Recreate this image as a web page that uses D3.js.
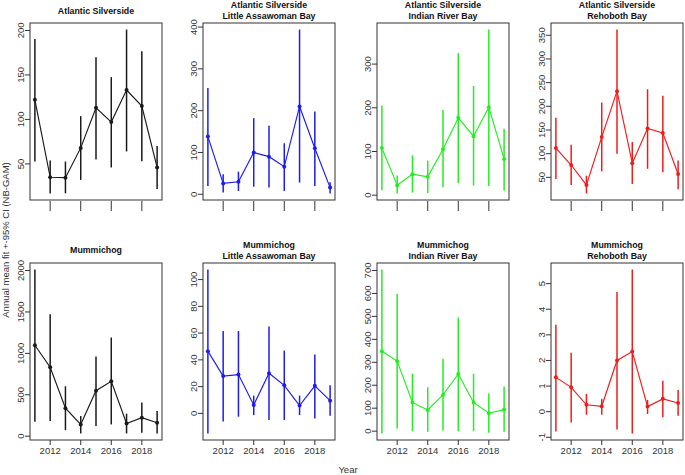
<!DOCTYPE html>
<html><head><meta charset="utf-8">
<script src="https://cdn.jsdelivr.net/npm/d3@7"></script>
<style>body{margin:0;background:#fff}text{font-family:"Liberation Sans",Arial,sans-serif}</style>
</head><body>
<svg id="c" width="685" height="475"></svg>
<script>
const years = [2011,2012,2013,2014,2015,2016,2017,2018,2019];
const xTicks = [2012,2014,2016,2018];

// Atlantic Silverside (all)
const silvAllFit = [122,35,34.5,68,113,97,133,115,46];
const silvAllLo  = [52.7,16.8,17,32,55,46,64,53,21.7];
const silvAllHi  = [190.5,53.8,52.7,103.7,170,147.5,201,176.6,70];
// Atlantic Silverside Little Assawoman Bay
const silvLabFit = [138,26,30,100,90,66,210,110,16];
const silvLabLo  = [20,4,8,18,16,8,28,20,2];
const silvLabHi  = [254,48,54,182,164,122,394,198,29];
// Atlantic Silverside Indian River Bay
const silvIrbFit = [108,23,48,42,105,177,135,201,83];
const silvIrbLo  = [12,4,6,5,18,28,22,21,10];
const silvIrbHi  = [205,45,91,79,195,325,250,379,152];
// Atlantic Silverside Rehoboth Bay
const silvRbFit = [111.7,76,34,135,232,80,153,143.6,57];
const silvRbLo  = [46.5,34,16,63,100,36,68,60.6,25];
const silvRbHi  = [176,119,53.5,208,362,124.5,236,222,85.5];
// Mummichog (all)
const mumAllFit = [1098,833,337,142,549,663,154,224,163];
const mumAllLo  = [175,183,73,33,122,142,33,41,33];
const mumAllHi  = [2012,1472,602,244,963,1191,272,407,305];
// Mummichog Little Assawoman Bay
const mumLabFit = [46.5,27.9,29,6.3,30,21,5.8,20.6,9.5];
const mumLabLo  = [-15,-6,-2.5,-1.3,-5,-5,-1.3,-3.8,-1.8];
const mumLabHi  = [107.5,61.6,61.6,13.3,65,47,13.3,44,21];
// Mummichog Indian River Bay
const mumIrbFit = [348,305,125,92,158,249,125,78,94];
const mumIrbLo  = [-10,12,0,-3,3,0,0,-7,-3];
const mumIrbHi  = [704,597,250,191,315,495,250,164,194];
// Mummichog Rehoboth Bay
const mumRbFit = [1.34,0.95,0.27,0.21,2.0,2.35,0.2,0.5,0.34];
const mumRbLo  = [-0.77,-0.42,-0.12,-0.12,-0.7,-0.85,-0.09,-0.22,-0.16];
const mumRbHi  = [3.39,2.3,0.69,0.5,4.67,5.55,0.46,1.21,0.85];

const yTicks = [
  [50,100,150,200],[0,100,200,300,400],[0,100,200,300],[50,100,150,200,250,300,350],
  [0,500,1000,1500,2000],[0,20,40,60,80,100],[0,100,200,300,400,500,600,700],[-1,0,1,2,3,4,5]
];
const titles = [
  ["Atlantic Silverside"],["Atlantic Silverside","Little Assawoman Bay"],
  ["Atlantic Silverside","Indian River Bay"],["Atlantic Silverside","Rehoboth Bay"],
  ["Mummichog"],["Mummichog","Little Assawoman Bay"],
  ["Mummichog","Indian River Bay"],["Mummichog","Rehoboth Bay"]
];
const colors = ["#1a1a1a","#1c1cf0","#22ee22","#f01c1c","#1a1a1a","#1c1cf0","#22ee22","#f01c1c"];
const fits = [silvAllFit,silvLabFit,silvIrbFit,silvRbFit,mumAllFit,mumLabFit,mumIrbFit,mumRbFit];
const los  = [silvAllLo,silvLabLo,silvIrbLo,silvRbLo,mumAllLo,mumLabLo,mumIrbLo,mumRbLo];
const his  = [silvAllHi,silvLabHi,silvIrbHi,silvRbHi,mumAllHi,mumLabHi,mumIrbHi,mumRbHi];

const svg = d3.select("#c");
const lefts = [30,203,377,551];
const tops = [23,263];
const W = 132, H = 177;

for (let p = 0; p < 8; p++) {
  const row = Math.floor(p/4), col = p%4;
  const x0 = lefts[col], y0 = tops[row];
  const g = svg.append("g").attr("transform",`translate(${x0},${y0})`);
  const lo = d3.min(los[p]), hi = d3.max(his[p]);
  const pad = (hi-lo)*0.04;
  const y = d3.scaleLinear().domain([lo-pad, hi+pad]).range([H,0]);
  const x = d3.scaleLinear().domain([2011-0.32, 2019+0.32]).range([0,W]);
  const col_ = colors[p];
  const data = years.map((yr,i)=>({yr, f:fits[p][i], l:los[p][i], h:his[p][i]}));

  g.selectAll("line.eb").data(data).enter().append("line")
    .attr("x1",d=>x(d.yr)).attr("x2",d=>x(d.yr))
    .attr("y1",d=>y(d.l)).attr("y2",d=>y(d.h))
    .attr("stroke",col_).attr("stroke-width",1.5);
  g.append("path").datum(data)
    .attr("d",d3.line().x(d=>x(d.yr)).y(d=>y(d.f)))
    .attr("fill","none").attr("stroke",col_).attr("stroke-width",1.15);
  g.selectAll("circle").data(data).enter().append("circle")
    .attr("cx",d=>x(d.yr)).attr("cy",d=>y(d.f)).attr("r",2).attr("fill",col_);

  g.append("rect").attr("x",0).attr("y",0).attr("width",W).attr("height",H)
    .attr("fill","none").attr("stroke","#333").attr("stroke-width",1);

  const ya = g.append("g");
  yTicks[p].forEach(t=>{
    ya.append("line").attr("x1",-5).attr("x2",0).attr("y1",y(t)).attr("y2",y(t)).attr("stroke","#333");
    ya.append("text").attr("transform",`translate(${-9},${y(t)}) rotate(-90)`)
      .attr("text-anchor","middle").attr("dy","0.35em").attr("font-size","9.5px").attr("fill","#333").text(t);
  });
  const xa = g.append("g");
  xTicks.forEach(t=>{
    if (row===0) {
      xa.append("line").attr("x1",x(t)).attr("x2",x(t)).attr("y1",H+1).attr("y2",H+11).attr("stroke","#333");
    } else {
      xa.append("line").attr("x1",x(t)).attr("x2",x(t)).attr("y1",H).attr("y2",H+5).attr("stroke","#333");
      xa.append("text").attr("x",x(t)).attr("y",H+14).attr("text-anchor","middle")
        .attr("font-size","9.5px").attr("fill","#333").text(t);
    }
  });
  const tl = titles[p];
  const cy = row===0 ? 11 : 250;
  tl.forEach((s,i)=>{
    const yy = tl.length===1 ? cy : (row===0 ? 5 : 245) + i*11;
    svg.append("text").attr("x",x0+W/2).attr("y",yy).attr("dy","0.35em")
      .attr("text-anchor","middle").attr("font-weight","bold").attr("font-size","8.8px").attr("fill","#111").text(s);
  });
}

svg.append("text").attr("transform","translate(6,240) rotate(-90)").attr("text-anchor","middle")
  .attr("dy","0.35em").attr("font-size","9.5px").attr("fill","#333").text("Annual mean fit +-95% CI (NB-GAM)");
svg.append("text").attr("x",348).attr("y",470).attr("dy","0.35em").attr("text-anchor","middle")
  .attr("font-size","9.5px").attr("fill","#333").text("Year");
</script>
</body></html>
